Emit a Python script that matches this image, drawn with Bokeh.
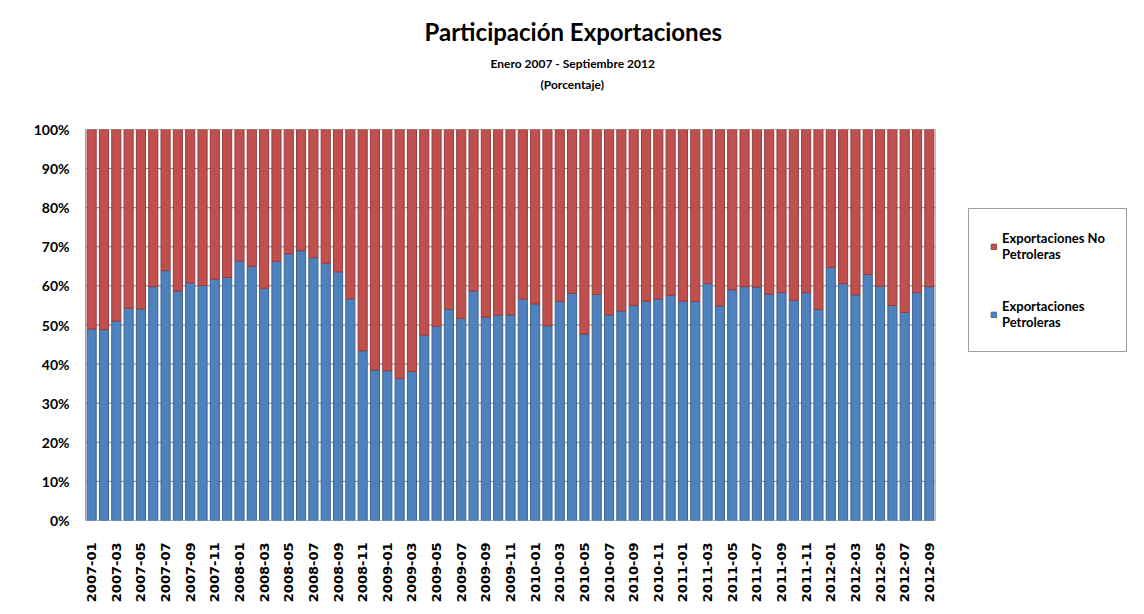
from math import pi
from bokeh.plotting import figure
from bokeh.models import (Range1d, FixedTicker, Legend, LegendItem, ColumnDataSource, Title)
from bokeh.embed import file_html
from bokeh.resources import INLINE

months = [
    "2007-01", "2007-02", "2007-03", "2007-04", "2007-05", "2007-06", "2007-07", "2007-08", "2007-09", "2007-10", "2007-11", "2007-12",
    "2008-01", "2008-02", "2008-03", "2008-04", "2008-05", "2008-06", "2008-07", "2008-08", "2008-09", "2008-10", "2008-11", "2008-12",
    "2009-01", "2009-02", "2009-03", "2009-04", "2009-05", "2009-06", "2009-07", "2009-08", "2009-09", "2009-10", "2009-11", "2009-12",
    "2010-01", "2010-02", "2010-03", "2010-04", "2010-05", "2010-06", "2010-07", "2010-08", "2010-09", "2010-10", "2010-11", "2010-12",
    "2011-01", "2011-02", "2011-03", "2011-04", "2011-05", "2011-06", "2011-07", "2011-08", "2011-09", "2011-10", "2011-11", "2011-12",
    "2012-01", "2012-02", "2012-03", "2012-04", "2012-05", "2012-06", "2012-07", "2012-08", "2012-09",
]

petroleras = [
    49.0, 48.8, 51.0, 54.3, 54.1, 59.8, 63.9, 58.7, 60.8, 60.1, 61.7, 62.2,
    66.3, 65.0, 59.4, 66.3, 68.2, 69.0, 67.2, 65.8, 63.6, 56.7, 43.4, 38.5,
    38.3, 36.3, 38.1, 47.4, 49.7, 54.0, 51.7, 58.7, 52.0, 52.5, 52.6, 56.6,
    55.4, 49.8, 56.0, 58.1, 47.7, 57.8, 52.6, 53.6, 55.0, 56.1, 56.7, 57.6,
    56.1, 56.0, 60.6, 54.9, 59.0, 59.8, 59.7, 57.9, 58.3, 56.3, 58.3, 54.0,
    64.7, 60.6, 57.7, 62.9, 59.9, 55.0, 53.2, 58.3, 59.8,
]
no_petroleras = [round(100 - v, 1) for v in petroleras]

y_ticks = [0, 10, 20, 30, 40, 50, 60, 70, 80, 90, 100]
y_labels = ["0%", "10%", "20%", "30%", "40%", "50%", "60%", "70%", "80%", "90%", "100%"]

title_text = "Participación Exportaciones"
subtitle_text = "Enero 2007 - Septiembre 2012"
unit_text = "(Porcentaje)"
series_names = ["Exportaciones\nPetroleras", "Exportaciones No\nPetroleras"]

BLUE = "#4F81BD"
RED = "#C0504D"
FONT = "Lato"
XFONT = "DejaVu Sans"

W, H = 1140, 610
LEFT, TOP, BOTTOM, RIGHT = 85, 129, 90, 5
BAR_SPAN_PX = 850.0          # pixel width occupied by the bar series
n = len(months)
frame_w = W - LEFT - RIGHT
x_end = -0.5 + frame_w / (BAR_SPAN_PX / n)   # extra room on the right for the legend

idx = list(range(n))
src = ColumnDataSource(dict(x=idx, pet=petroleras, nopet=no_petroleras))

p = figure(width=W, height=H, output_backend="svg", toolbar_location=None,
           x_range=Range1d(-0.5, x_end), y_range=Range1d(0, 100),
           min_border_left=LEFT, min_border_right=RIGHT, min_border_top=TOP,
           min_border_bottom=BOTTOM)
p.background_fill_color = "white"
p.border_fill_color = "white"
p.outline_line_color = None
p.grid.visible = False

# horizontal gridlines only across the bar area
gsrc = ColumnDataSource(dict(y=y_ticks, x0=[-0.5] * len(y_ticks), x1=[n - 0.5] * len(y_ticks)))
p.segment(x0="x0", x1="x1", y0="y", y1="y", source=gsrc, line_color="#808080", line_width=1)
p.segment(x0=[n - 0.5], x1=[n - 0.5], y0=[0], y1=[100], line_color="#bfbfbf", line_width=1)

r = p.vbar_stack(["pet", "nopet"], x="x", width=0.74, source=src,
                 color=[BLUE, RED], line_color=["#3b6496", "#943d3a"], line_width=1)

p.yaxis.ticker = FixedTicker(ticks=y_ticks)
p.yaxis.major_label_overrides = {tk: lb for tk, lb in zip(y_ticks, y_labels)}
p.yaxis.major_label_text_font = FONT
p.yaxis.major_label_text_font_style = "bold"
p.yaxis.major_label_text_font_size = "14px"
p.yaxis.major_label_text_color = "black"
p.yaxis.major_tick_line_color = None
p.yaxis.minor_tick_line_color = None
p.yaxis.axis_line_color = "#a0a0a0"
p.yaxis.major_label_standoff = 10

xt = [i for i in idx if i % 2 == 0]
p.xaxis.ticker = FixedTicker(ticks=xt)
p.xaxis.major_label_overrides = {i: months[i] for i in xt}
p.xaxis.major_label_orientation = pi / 2
p.xaxis.major_label_text_font = XFONT
p.xaxis.major_label_text_font_style = "bold"
p.xaxis.major_label_text_font_size = "13px"
p.xaxis.major_label_text_color = "black"
p.xaxis.major_tick_line_color = None
p.xaxis.minor_tick_line_color = None
p.xaxis.axis_line_color = None
p.xaxis.major_label_standoff = 16

# title stack (first added sits nearest the plot)
def add_title(text, size, offset, standoff):
    p.add_layout(Title(text=text, align="left", offset=offset, standoff=standoff,
                       vertical_align="middle", text_font=FONT, text_font_style="bold",
                       text_font_size=size, text_color="black"), "above")

add_title(" ", "12px", 0, 20)
add_title(unit_text, "12px", 455, 0)
add_title(subtitle_text, "12px", 405, 7)
add_title(title_text, "24px", 339, 10)

legend = Legend(items=[LegendItem(label=series_names[1], renderers=[r[1]]),
                       LegendItem(label=series_names[0], renderers=[r[0]])],
                location=(968 - LEFT, (H - BOTTOM) - 352))
legend.label_text_font = FONT
legend.label_text_font_style = "bold"
legend.label_text_font_size = "13px"
legend.label_text_color = "black"
legend.label_text_line_height = 1.5
legend.glyph_width = 7
legend.glyph_height = 7
legend.spacing = 36
legend.padding = 21
legend.margin = 0
legend.border_line_color = "#404040"
legend.border_line_width = 1
legend.label_standoff = 5
p.add_layout(legend, "center")

open("out.html", "w").write(file_html(p, INLINE))
